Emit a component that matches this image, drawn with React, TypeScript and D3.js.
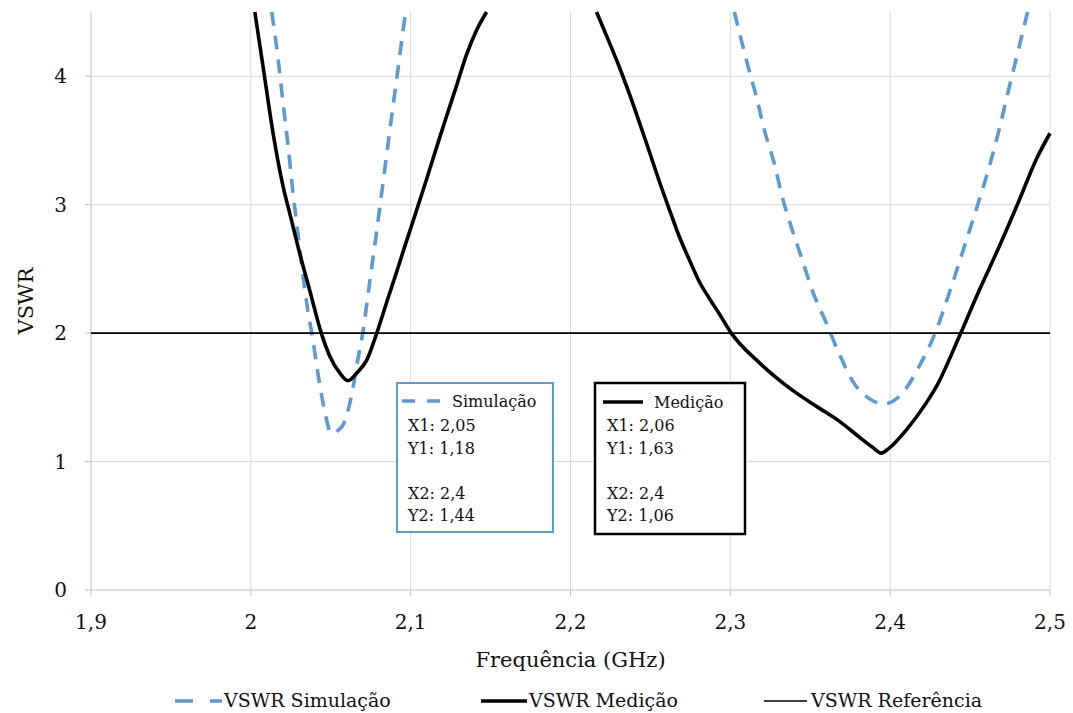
import React from 'react';
import * as d3 from 'd3';

// ---------- data ----------
const xTicks = [1.9, 2.0, 2.1, 2.2, 2.3, 2.4, 2.5];
const xTickLabels = ['1,9', '2', '2,1', '2,2', '2,3', '2,4', '2,5'];
const yTicks = [0, 1, 2, 3, 4];
const yTickLabels = ['0', '1', '2', '3', '4'];

// VSWR Simulação (NaN = gap where the curve leaves the plot)
const simFreq = [
  2.0131, 2.0169, 2.02, 2.0231, 2.0263, 2.0294, 2.0325, 2.0356, 2.0388, 2.0413, 2.0431, 2.0475, 2.05,
  2.0569, 2.0631, 2.0669, 2.07, 2.0744, 2.0788, 2.0831, 2.0875, 2.0919, 2.0963, 2.0969,
  NaN,
  2.3025, 2.3106, 2.3163, 2.3213, 2.3275, 2.3325, 2.3388, 2.345, 2.3513, 2.36, 2.3681, 2.3763, 2.3869,
  2.3963, 2.4075, 2.4181, 2.4288, 2.4369, 2.445, 2.4538, 2.4619, 2.4681, 2.4744, 2.4813, 2.485, 2.486,
];
const simVswr = [
  4.5, 4.15, 3.81, 3.48, 3.1, 2.78, 2.46, 2.18, 1.95, 1.74, 1.6, 1.32, 1.22,
  1.27, 1.52, 1.79, 2.0, 2.4, 2.8, 3.21, 3.63, 4.04, 4.45, 4.5,
  NaN,
  4.5, 4.1, 3.84, 3.58, 3.32, 3.06, 2.8, 2.57, 2.33, 2.08, 1.84, 1.63, 1.49,
  1.45, 1.53, 1.74, 2.02, 2.31, 2.62, 2.96, 3.29, 3.58, 3.91, 4.26, 4.45, 4.5,
];

// VSWR Medição
const medFreq = [
  2.0025, 2.0077, 2.014, 2.0202, 2.0244, 2.0306, 2.0369, 2.0441, 2.0494, 2.0556, 2.0608, 2.0663, 2.0725,
  2.0788, 2.085, 2.0913, 2.0975, 2.1038, 2.11, 2.1163, 2.1225, 2.1288, 2.135, 2.1413, 2.1475,
  NaN,
  2.2163, 2.2244, 2.2306, 2.2369, 2.2431, 2.2494, 2.2556, 2.2619, 2.2681, 2.2744, 2.2806, 2.2869, 2.2931,
  2.3006, 2.3181, 2.3388, 2.3556, 2.3681, 2.3806, 2.3888, 2.3944, 2.3994, 2.41, 2.4225, 2.4294, 2.4431,
  2.4556, 2.4681, 2.4806, 2.4913, 2.5,
];
const medVswr = [
  4.5, 4.07, 3.55, 3.14, 2.93, 2.62, 2.33, 2.0, 1.82, 1.69, 1.63, 1.69, 1.79,
  2.0, 2.24, 2.48, 2.72, 2.96, 3.2, 3.45, 3.69, 3.93, 4.17, 4.36, 4.5,
  NaN,
  4.5, 4.26, 4.07, 3.86, 3.64, 3.41, 3.18, 2.96, 2.75, 2.57, 2.4, 2.27, 2.15,
  2.0, 1.77, 1.556, 1.416, 1.315, 1.191, 1.113, 1.066, 1.105, 1.245, 1.455, 1.595, 1.97,
  2.33, 2.67, 3.03, 3.35, 3.556,
];

// VSWR Referência
const refFreq = [1.9, 2.5];
const refVswr = [2, 2];

const seriesNames = ['VSWR Simulação', 'VSWR Medição', 'VSWR Referência'];
const simBoxTitle = 'Simulação';
const simBoxLines = ['X1: 2,05', 'Y1: 1,18', '', 'X2: 2,4', 'Y2: 1,44'];
const medBoxTitle = 'Medição';
const medBoxLines = ['X1: 2,06', 'Y1: 1,63', '', 'X2: 2,4', 'Y2: 1,06'];

// ---------- layout ----------
const W = 1073;
const H = 713;
const M = { left: 91, right: 1050, top: 12, bottom: 590 };
const BLUE = '#5B9BD5';
const FONT = 'DejaVu Serif';
const TXT = '#111111';

export default function App() {
  const x = d3.scaleLinear().domain([1.9, 2.5]).range([M.left, M.right]);
  const y = d3.scaleLinear().domain([0, 4.5]).range([M.bottom, M.top]);

  const toPts = (fs: number[], vs: number[]) => fs.map((f, i) => ({ f, v: vs[i] }));
  const line = d3
    .line<{ f: number; v: number }>()
    .defined((d) => !isNaN(d.f) && !isNaN(d.v))
    .x((d) => x(d.f))
    .y((d) => y(d.v))
    .curve(d3.curveMonotoneX);
  const lineLin = d3
    .line<{ f: number; v: number }>()
    .x((d) => x(d.f))
    .y((d) => y(d.v));

  const simPath = line(toPts(simFreq, simVswr)) || '';
  const medPath = line(toPts(medFreq, medVswr)) || '';
  const refPath = lineLin(toPts(refFreq, refVswr)) || '';

  const boxLineY = (i: number) => 431 + i * 22.5;

  return (
    <svg
      width={W}
      height={H}
      style={{ position: 'absolute', left: 0, top: 0, display: 'block', background: '#fff' }}
      fontFamily={FONT}
    >
      <defs>
        <clipPath id="plotClip">
          <rect x={M.left} y={M.top - 2} width={M.right - M.left + 4} height={M.bottom - M.top + 2} />
        </clipPath>
      </defs>
      <rect x={0} y={0} width={W} height={H} fill="#fff" />

      {/* grid */}
      {xTicks.slice(1).map((t) => (
        <line key={'gx' + t} x1={x(t)} x2={x(t)} y1={M.top} y2={M.bottom} stroke="#d9d9d9" strokeWidth={1} />
      ))}
      {yTicks.slice(1).map((t) => (
        <line key={'gy' + t} x1={M.left} x2={M.right} y1={y(t)} y2={y(t)} stroke="#d9d9d9" strokeWidth={1} />
      ))}

      {/* axes */}
      <line x1={M.left} x2={M.left} y1={M.top} y2={M.bottom} stroke="#bfbfbf" strokeWidth={1} />
      <line x1={M.left} x2={M.right} y1={M.bottom} y2={M.bottom} stroke="#bfbfbf" strokeWidth={1} />
      {xTicks.map((t) => (
        <line key={'tx' + t} x1={x(t)} x2={x(t)} y1={M.bottom} y2={M.bottom + 6} stroke="#bfbfbf" strokeWidth={1} />
      ))}
      {yTicks.map((t) => (
        <line key={'ty' + t} x1={M.left - 6} x2={M.left} y1={y(t)} y2={y(t)} stroke="#bfbfbf" strokeWidth={1} />
      ))}
      {xTicks.map((t, i) => (
        <text key={'lx' + t} x={x(t)} y={M.bottom + 39} textAnchor="middle" fontSize={20} fill={TXT}>
          {xTickLabels[i]}
        </text>
      ))}
      {yTicks.map((t, i) => (
        <text key={'ly' + t} x={67} y={y(t) + 7} textAnchor="end" fontSize={20} fill={TXT}>
          {yTickLabels[i]}
        </text>
      ))}

      {/* axis titles */}
      <text x={(M.left + M.right) / 2} y={667} textAnchor="middle" fontSize={21} fill={TXT}>
        Frequência (GHz)
      </text>
      <text transform={`translate(33, ${(M.top + M.bottom) / 2}) rotate(-90)`} textAnchor="middle" fontSize={21} fill={TXT}>
        VSWR
      </text>

      {/* series */}
      <g clipPath="url(#plotClip)">
        <path d={simPath} fill="none" stroke={BLUE} strokeWidth={3.6} strokeDasharray="14 10" />
        <path d={medPath} fill="none" stroke="#000" strokeWidth={3.6} strokeLinejoin="round" />
        <path d={refPath} fill="none" stroke="#000" strokeWidth={1.6} />
      </g>

      {/* annotation boxes */}
      <rect x={397} y={383} width={156} height={149} fill="#fff" stroke={BLUE} strokeWidth={2} />
      <line x1={402} x2={442} y1={401} y2={401} stroke={BLUE} strokeWidth={3.6} strokeDasharray="13 12" />
      <text x={452} y={407} fontSize={16} fill={TXT}>{simBoxTitle}</text>
      {simBoxLines.map((s, i) => (
        <text key={'sb' + i} x={408} y={boxLineY(i)} fontSize={16} fill={TXT}>{s}</text>
      ))}

      <rect x={595} y={383} width={150} height={151} fill="#fff" stroke="#000" strokeWidth={2.5} />
      <line x1={603} x2={643} y1={402} y2={402} stroke="#000" strokeWidth={3.6} />
      <text x={654} y={408} fontSize={16} fill={TXT}>{medBoxTitle}</text>
      {medBoxLines.map((s, i) => (
        <text key={'mb' + i} x={607} y={boxLineY(i)} fontSize={16} fill={TXT}>{s}</text>
      ))}

      {/* legend */}
      <line x1={175} x2={222} y1={701} y2={701} stroke={BLUE} strokeWidth={3.6} strokeDasharray="18 17" />
      <text x={224} y={707} fontSize={19} fill={TXT}>{seriesNames[0]}</text>
      <line x1={481} x2={527} y1={701} y2={701} stroke="#000" strokeWidth={3.6} />
      <text x={529} y={707} fontSize={19} fill={TXT}>{seriesNames[1]}</text>
      <line x1={764} x2={807} y1={701} y2={701} stroke="#000" strokeWidth={1.6} />
      <text x={811} y={707} fontSize={19} fill={TXT}>{seriesNames[2]}</text>
    </svg>
  );
}
